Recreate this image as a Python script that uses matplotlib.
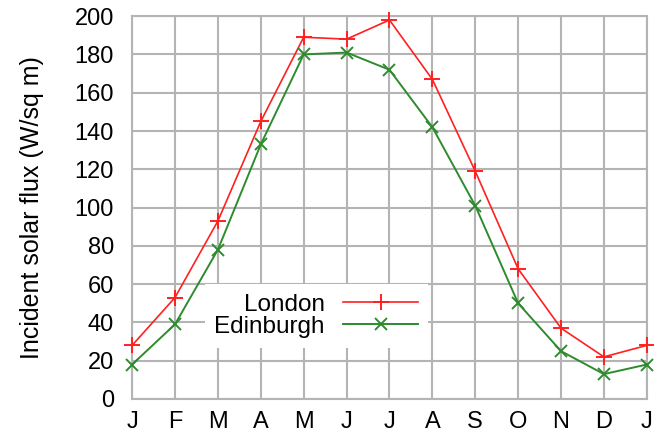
import matplotlib.pyplot as plt

months = ['J', 'F', 'M', 'A', 'M', 'J', 'J', 'A', 'S', 'O', 'N', 'D', 'J']
london = [28, 53, 93, 145, 189, 188, 198, 167, 119, 68, 37, 22, 28]
edinburgh = [18, 39, 78, 133, 180, 181, 172, 142, 101, 50, 25, 13, 18]

plt.rcParams['font.family'] = ['Liberation Sans', 'DejaVu Sans']

fig = plt.figure(figsize=(6.54, 4.37), dpi=100)
ax = fig.add_axes([0.202, 0.087, 0.787, 0.876])

x = list(range(len(months)))
ax.plot(x, london, color='#ff2020', lw=1.2, marker='+', ms=12, mew=1.4,
        label='London', clip_on=False, zorder=3)
ax.plot(x, edinburgh, color='#2e8b2e', lw=1.4, marker='x', ms=9, mew=1.4,
        label='Edinburgh', clip_on=False, zorder=3)

ax.set_xlim(0, len(months) - 1)
ax.set_ylim(0, 200)
ax.set_xticks(x)
ax.set_xticklabels(months)
ax.set_yticks(range(0, 201, 20))
ax.tick_params(axis='y', length=0, labelsize=17, pad=13)
ax.tick_params(axis='x', length=0, labelsize=17, pad=9)
ax.grid(True, color='#b4b4b4', lw=1.5)
ax.set_axisbelow(True)
for s in ax.spines.values():
    s.set_color('#b4b4b4')
    s.set_linewidth(1.5)

ax.set_ylabel('Incident solar flux (W/sq m)', fontsize=18, labelpad=22)

leg = ax.legend(loc='upper right', bbox_to_anchor=(0.575, 0.30),
                markerfirst=False, fontsize=17.5, frameon=True, fancybox=False,
                handlelength=3.1, borderpad=0.4, labelspacing=0.0,
                handletextpad=0.75, borderaxespad=0)
leg.get_frame().set_edgecolor('none')
leg.get_frame().set_facecolor('white')
leg.get_frame().set_alpha(1)

fig.savefig('out.png', dpi=100)
